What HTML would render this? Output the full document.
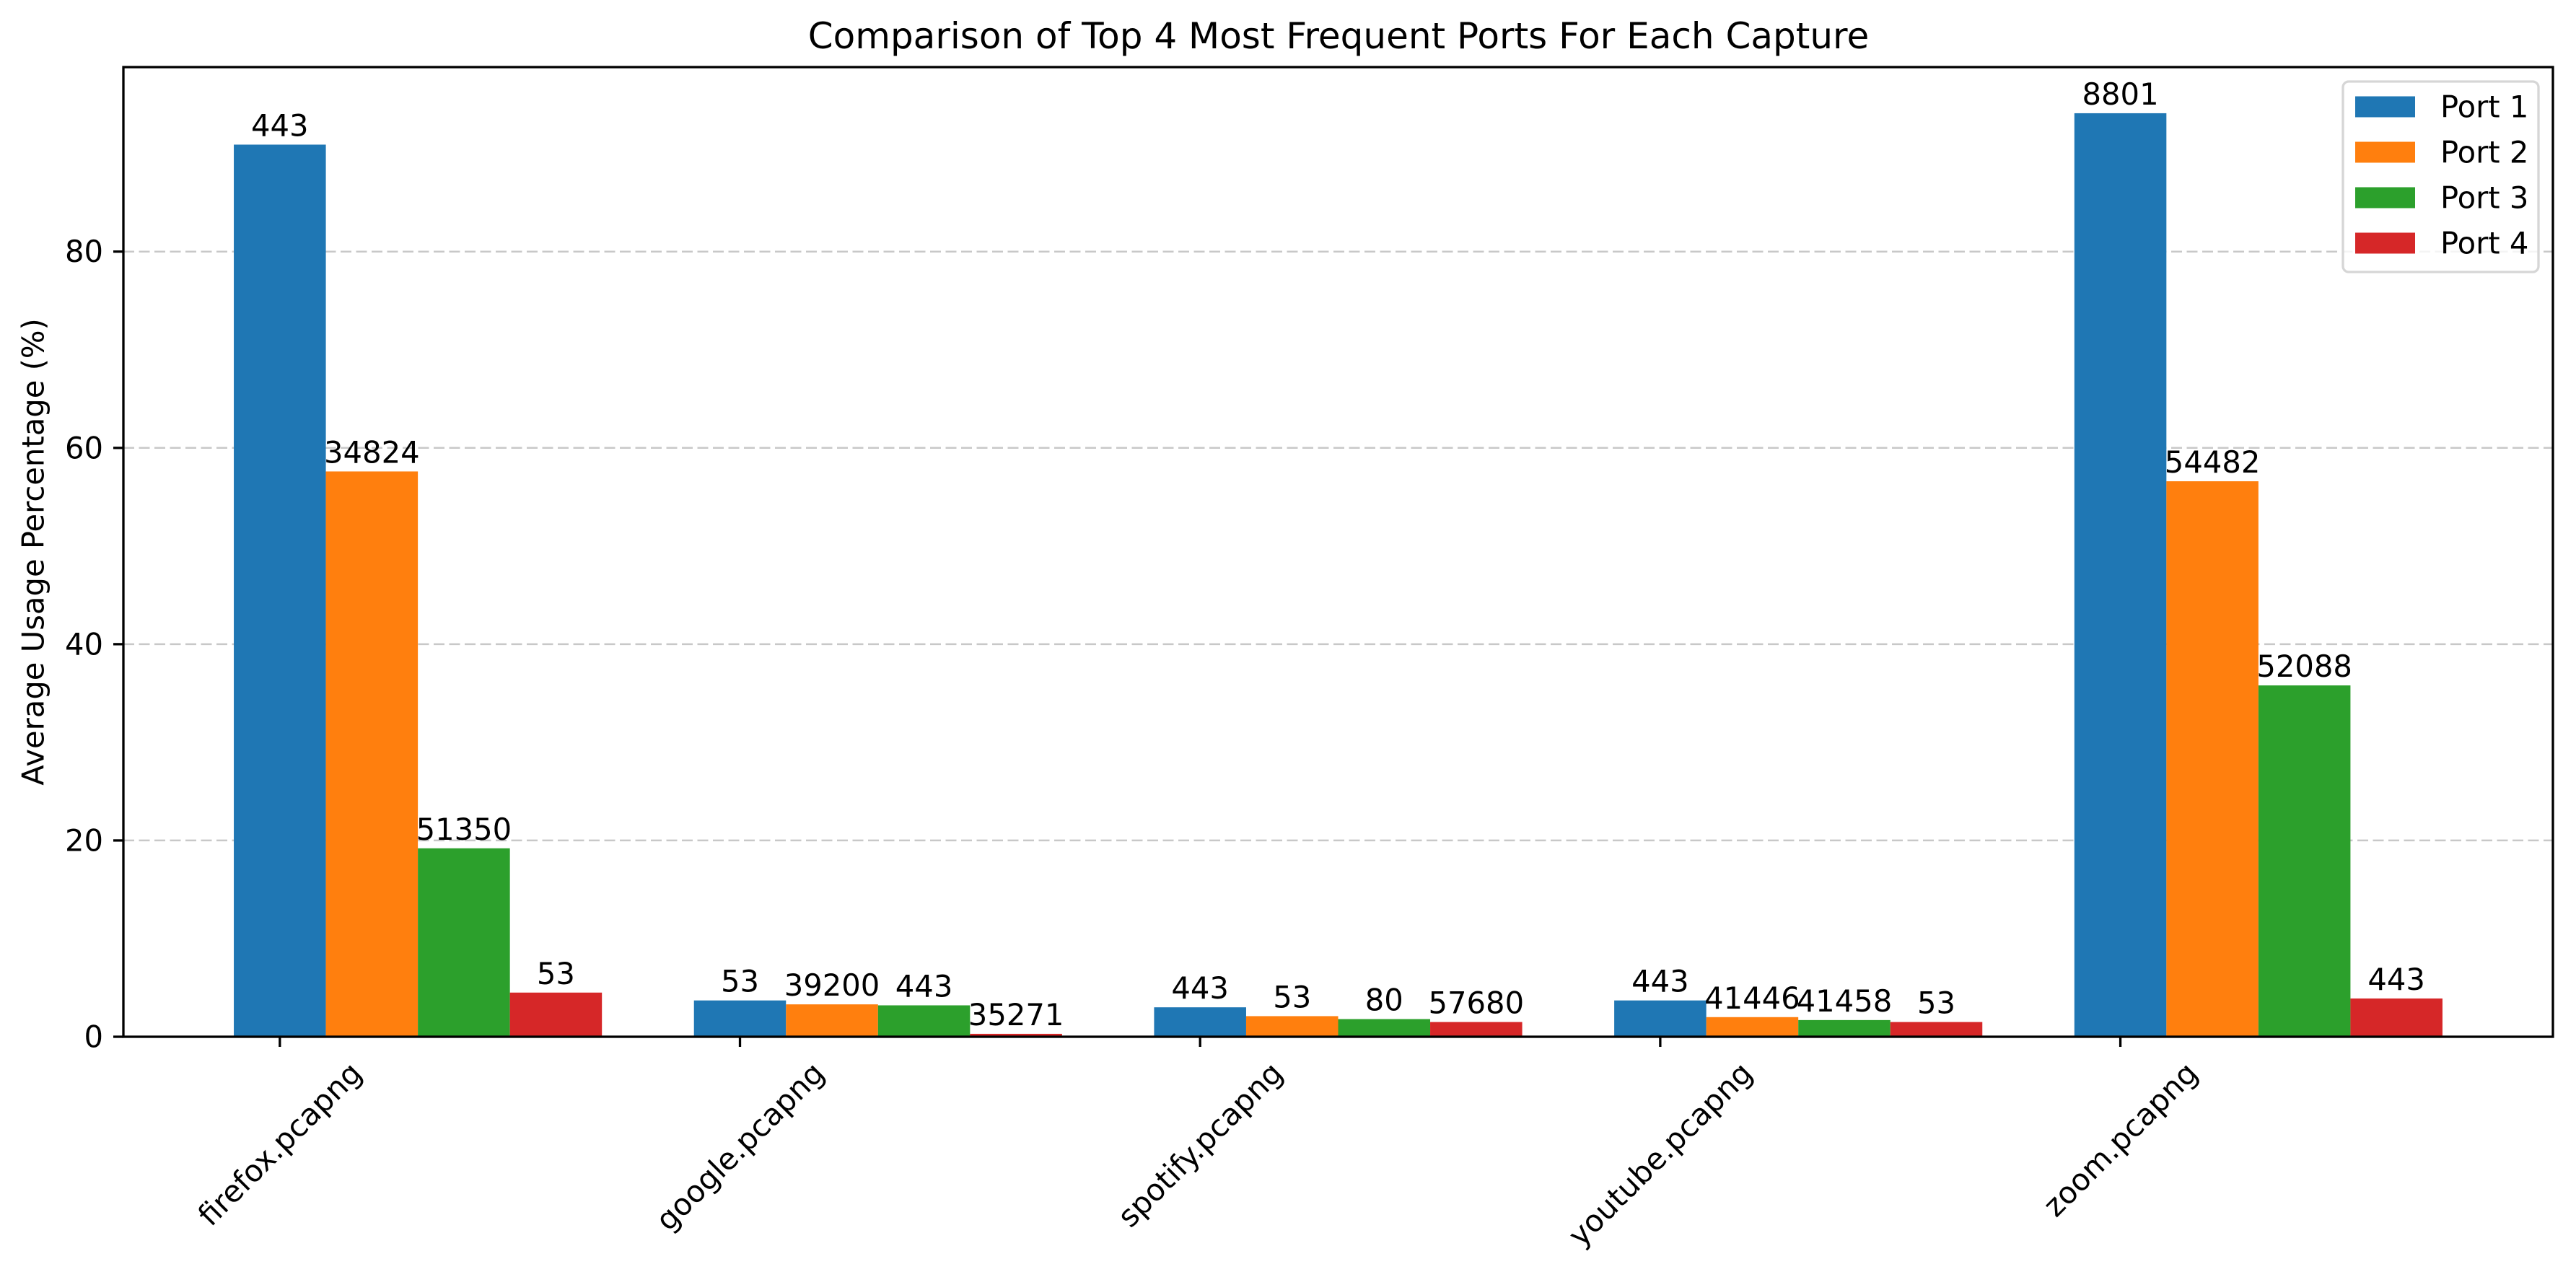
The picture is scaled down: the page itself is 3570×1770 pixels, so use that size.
<!DOCTYPE html>
<html><head><meta charset="utf-8"><style>
html,body{margin:0;padding:0;background:#fff;}
svg text{font-family:"DejaVu Sans","Liberation Sans",sans-serif;fill:#000;}
</style></head><body>
<svg id="chart" width="3570" height="1765" viewBox="0 0 3570 1765" xmlns="http://www.w3.org/2000/svg">
<rect width="3570" height="1765" fill="#fff"/>
<text x="1855" y="50" font-size="50" text-anchor="middle" dominant-baseline="central">Comparison of Top 4 Most Frequent Ports For Each Capture</text>
<text transform="translate(46,765) rotate(-90)" font-size="41.7" text-anchor="middle" dominant-baseline="central">Average Usage Percentage (%)</text>
<g id="grid"></g><g id="bars"></g><g id="labels"></g><g id="axes"></g><g id="legend"></g>
</svg>
<script>
const categories = ["firefox.pcapng","google.pcapng","spotify.pcapng","youtube.pcapng","zoom.pcapng"];
const seriesNames = ["Port 1","Port 2","Port 3","Port 4"];
const port1 = [90.9, 3.7, 3.0, 3.7, 94.1];
const port2 = [57.6, 3.3, 2.1, 2.0, 56.6];
const port3 = [19.2, 3.2, 1.8, 1.7, 35.8];
const port4 = [4.5, 0.3, 1.5, 1.5, 3.9];
const port1Labels = ["443","53","443","443","8801"];
const port2Labels = ["34824","39200","53","41446","54482"];
const port3Labels = ["51350","443","80","41458","52088"];
const port4Labels = ["53","35271","57680","53","443"];
const yTicks = [0,20,40,60,80];

const colors = ["#1f77b4","#ff7f0e","#2ca02c","#d62728"];
const series = [port1,port2,port3,port4];
const seriesLabels = [port1Labels,port2Labels,port3Labels,port4Labels];
const NS="http://www.w3.org/2000/svg";
const L=171,R=3538,T=93,B=1437;
const xmin=-0.34,xmax=4.94,ymin=0,ymax=98.8;
const xS=v=>L+(v-xmin)/(xmax-xmin)*(R-L);
const yS=v=>B-(v-ymin)/(ymax-ymin)*(B-T);
const bw=0.2;
function mk(tag,attrs,parent){const e=document.createElementNS(NS,tag);for(const k in attrs)e.setAttribute(k,attrs[k]);parent.appendChild(e);return e;}
const grid=document.getElementById('grid'),bars=document.getElementById('bars'),labels=document.getElementById('labels'),axes=document.getElementById('axes'),legend=document.getElementById('legend');
yTicks.forEach(t=>{
  if(t>0){const g=mk('line',{x1:L,x2:R,y1:yS(t),y2:yS(t),stroke:'#c8c8c8','stroke-width':2.5,'stroke-dasharray':'15,6.5'},grid);
  
  }
  const tk=mk('line',{x1:L-14,x2:L,y1:yS(t),y2:yS(t),stroke:'#000','stroke-width':3.3},axes);
  
  
  const tl=mk('text',{x:L-28,y:yS(t),'font-size':41.7,'text-anchor':'end','dominant-baseline':'central'},axes);
  tl.textContent=t;
  
  
});
series.forEach((vals,s)=>{
  vals.forEach((v,i)=>{
    const x0=i+s*bw-bw/2;
    const r=mk('rect',{x:xS(x0),y:yS(v),width:xS(x0+bw)-xS(x0),height:yS(0)-yS(v),fill:colors[s]},bars);
    
    
    const t=mk('text',{x:xS(i+s*bw),y:yS(v)-12,'font-size':41.7,'text-anchor':'middle'},labels);
    t.textContent=seriesLabels[s][i];
    
    
  });
});
mk('rect',{x:L,y:T,width:R-L,height:B-T,fill:'none',stroke:'#000','stroke-width':3.3},axes);
categories.forEach((c,i)=>{
  const x=xS(i);
  const tk=mk('line',{x1:x,x2:x,y1:B,y2:B+14,stroke:'#000','stroke-width':3.3},axes);
  
  
  const t=mk('text',{'font-size':41.7,'text-anchor':'middle','dominant-baseline':'central'},axes);
  t.textContent=c;
  
  
  const w=t.getComputedTextLength();
  const h=(w+41.7)*0.7071;
  const cy=B+28+h/2;
  t.setAttribute('transform','translate('+x+','+cy+') rotate(-45)');
});
const lb=mk('rect',{x:3247,y:113,width:271,height:264,rx:8,fill:'#fff','fill-opacity':0.8,stroke:'#d6d6d6','stroke-width':3.3},legend);


seriesNames.forEach((n,s)=>{
  const cy=148+s*63;
  const p=mk('rect',{x:3264,y:cy-14.5,width:83,height:29,fill:colors[s]},legend);
  
  
  const t=mk('text',{x:3382,y:cy,'font-size':41.7,'dominant-baseline':'central'},legend);
  t.textContent=n;
  
  
});
</script>
</body></html>
